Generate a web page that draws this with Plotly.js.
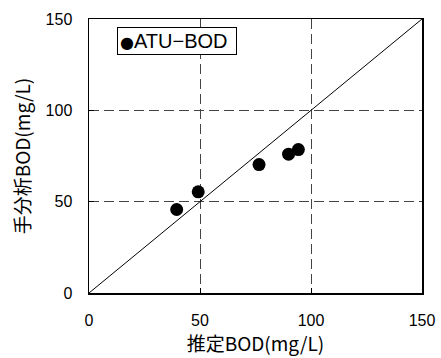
<!DOCTYPE html>
<html><head><meta charset="utf-8">
<script src="https://cdn.plot.ly/plotly-3.0.1.min.js"></script>
<style>html,body{margin:0;padding:0;background:#fff}</style>
</head><body>
<div id="chart" style="width:441px;height:358px"></div>
<script>
var estimatedBOD = [39.5, 49.2, 76.6, 89.9, 94.3];
var manualBOD = [45.7, 55.4, 70.3, 76.0, 78.5];
var seriesName = 'ATU\u2212BOD';
var tickVals = [0, 50, 100, 150];
var refLine = [0, 150];

var fontFam = 'Liberation Sans, Arial, Noto Sans CJK JP, sans-serif';
var cjkFam = 'Noto Sans CJK JP, Liberation Sans, sans-serif';
var data = [
  {x: refLine, y: refLine, mode: 'lines', line: {color: '#000', width: 1}, showlegend: false, hoverinfo: 'skip'},
  {x: estimatedBOD, y: manualBOD, mode: 'markers', name: seriesName, showlegend: false,
   marker: {color: '#000', size: 13, symbol: 'circle'}}
];
var axisCommon = {
  range: [0, 150], tickvals: tickVals, ticks: 'inside', ticklen: 5, tickcolor: '#000',
  showline: true, linecolor: '#000', linewidth: 1.5, mirror: true,
  showgrid: true, gridcolor: '#444', griddash: '10px,5px', gridwidth: 1,
  zeroline: false, tickfont: {family: fontFam, size: 16, color: '#000'},
  ticklabelstandoff: 12
};
var layout = {
  width: 441, height: 358,
  margin: {l: 89, r: 19, t: 19, b: 65},
  paper_bgcolor: '#fff', plot_bgcolor: '#fff',
  font: {family: fontFam, color: '#000'},
  xaxis: Object.assign({}, axisCommon, {title: {text: '推定BOD(mg/L)', font: {family: cjkFam, size: 19}, standoff: 10}}),
  yaxis: Object.assign({}, axisCommon, {title: {text: '手分析BOD(mg/L)', font: {family: cjkFam, size: 19}, standoff: 10}}),
  showlegend: false,
  annotations: [{
    xref: 'paper', yref: 'paper', x: 0.083, y: 0.97, xanchor: 'left', yanchor: 'top',
    text: '<span style="font-family:DejaVu Sans;font-size:16px">\u25CF</span>' + seriesName,
    showarrow: false, bordercolor: '#000', borderwidth: 1, borderpad: 2, bgcolor: '#fff',
    width: 114, align: 'left',
    font: {family: fontFam, size: 20, color: '#000'}
  }]
};
Plotly.newPlot('chart', data, layout, {staticPlot: true, displayModeBar: false});
</script>
</body></html>
